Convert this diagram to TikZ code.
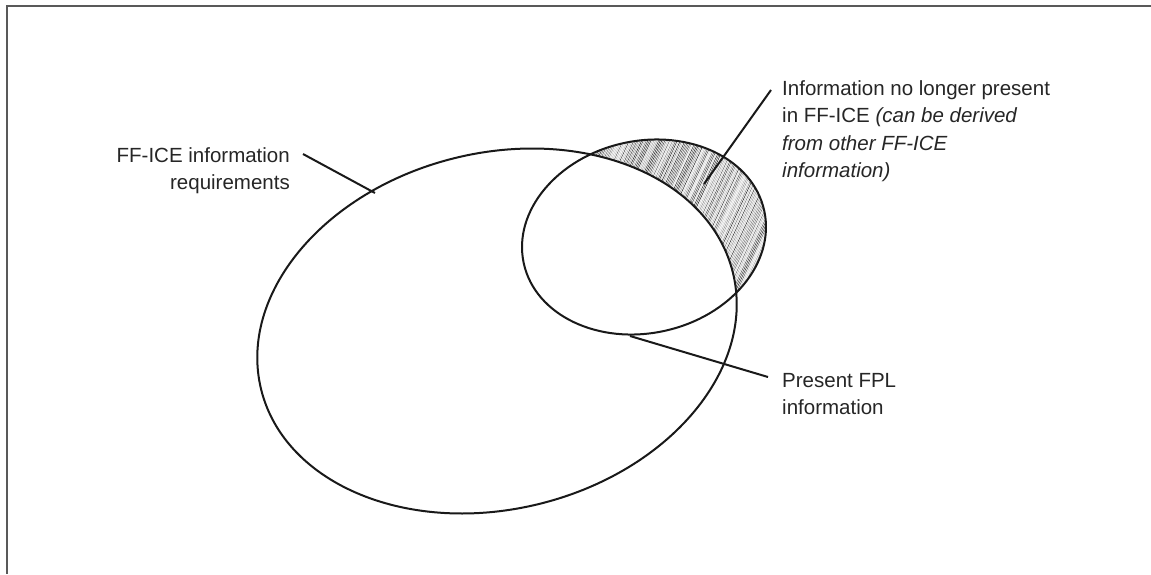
\documentclass[tikz,border=0pt]{standalone}
\usepackage{fontspec}
\setmainfont{Liberation Sans}
\tikzset{%
  venn/.style={line width=2pt, color=black!90},
  lead/.style={line width=2pt, color=black!90},
  frame/.style={line width=1.5pt, color=black!65},
  lbl/.style={inner sep=0pt, text=black!85, font=\fontsize{20.5}{27.5}\selectfont}
}
\begin{document}
\begin{tikzpicture}[x=1pt,y=-1pt]
\useasboundingbox (0,0) rectangle (1151,574);
\pgfmathsetseed{7}
\begin{scope}
\clip[rotate around={12.4:(644,237)}] (644,237) ellipse [x radius=123.1, y radius=96.1];
\foreach \k in {0,...,170} {
  \pgfmathsetmacro\g{int(15+75*rnd)}
  \draw[black!\g, line width=.5pt] (520+\k*1.55, 305) -- ++(80,-175);
}
\fill[white, rotate around={14:(497,331)}] (497,331) ellipse [x radius=243, y radius=178];
\end{scope}
\draw[venn, rotate around={14:(497,331)}] (497,331) ellipse [x radius=243, y radius=178];
\draw[venn, rotate around={12.4:(644,237)}] (644,237) ellipse [x radius=123.1, y radius=96.1];
\node[lbl, align=right, anchor=north east] (reqlabel) at (290,147) {FF-ICE information\\requirements};
\node[lbl, align=left, anchor=north west] (gonelabel) at (782,80) {Information no longer present\\in FF-ICE \textit{(can be derived}\\\textit{from other FF-ICE}\\\textit{information)}};
\node[lbl, align=left, anchor=north west] (fpllabel) at (782,373) {Present FPL\\information};
\coordinate (reqtip) at (303,154);
\coordinate (reqend) at (375,193);
\coordinate (gonetip) at (771,90);
\coordinate (goneend) at (704,184);
\coordinate (fpltip) at (768,377);
\coordinate (fplend) at (630,336);
\draw[lead] (reqtip) -- (reqend);
\draw[lead] (gonetip) -- (goneend);
\draw[lead] (fpltip) -- (fplend);
\draw[frame] (1151,6) -- (7,6) -- (7,574);
\end{tikzpicture}
\end{document}
